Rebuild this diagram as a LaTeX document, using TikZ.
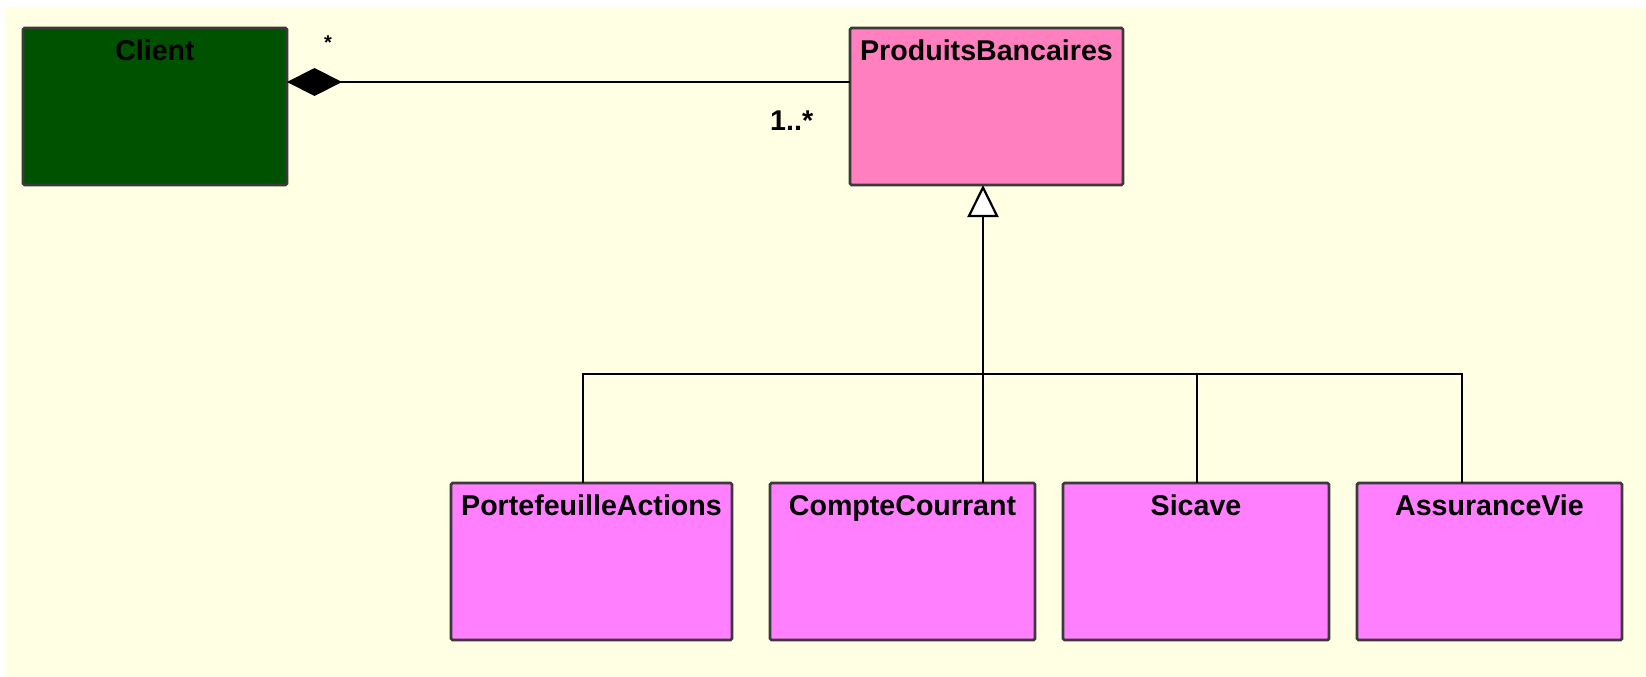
\documentclass[tikz,border=0pt]{standalone}
\usepackage{fontspec}
\setmainfont{Liberation Sans}
\usetikzlibrary{arrows.meta}
\definecolor{bgc}{HTML}{FFFFE4}
\definecolor{clientg}{HTML}{005200}
\definecolor{pbpink}{HTML}{FF7FBF}
\definecolor{subpink}{HTML}{FF7FFF}
\definecolor{bord}{HTML}{3A3A3A}
\tikzset{
  cls/.style={draw=bord, line width=2.8pt, rounded corners=1.5pt, anchor=north west, inner sep=0pt, outer sep=0pt},
  bigbox/.style={minimum width=264pt, minimum height=157pt},
  ttl/.style={anchor=base, font=\fontsize{28.6pt}{34pt}\selectfont\bfseries, inner sep=0pt},
  mult/.style={anchor=base west, font=\fontsize{28.6pt}{34pt}\selectfont, inner sep=0pt},
  conn/.style={draw=black, line width=2.2pt},
}
\begin{document}
\begin{tikzpicture}[x=1pt,y=-1pt]
\useasboundingbox (0,0) rectangle (1646,677);
\fill[white] (0,0) rectangle (1646,677);
\fill[bgc] (5,7) rectangle (1646,677);

% class boxes
\node[cls, fill=clientg, bigbox] (client) at (23,28) {};
\node[cls, fill=pbpink, minimum width=273pt, minimum height=157pt] (pb) at (850,28) {};
\node[cls, fill=subpink, minimum width=281pt, minimum height=157pt] (pf) at (451,483) {};
\node[cls, fill=subpink, minimum width=265pt, minimum height=157pt] (cc) at (770,483) {};
\node[cls, fill=subpink, minimum width=266pt, minimum height=157pt] (sic) at (1063,483) {};
\node[cls, fill=subpink, minimum width=265pt, minimum height=157pt] (av) at (1357,483) {};

% titles
\node[ttl] (clientT) at ([yshift=-32pt]client.north) {Client};
\node[ttl] (pbT) at ([yshift=-32pt]pb.north) {ProduitsBancaires};
\node[ttl] (pfT) at ([yshift=-32pt]pf.north) {PortefeuilleActions};
\node[ttl] (ccT) at ([yshift=-32pt]cc.north) {CompteCourrant};
\node[ttl] (sicT) at ([yshift=-32pt]sic.north) {Sicave};
\node[ttl] (avT) at ([yshift=-32pt]av.north) {AssuranceVie};

% composition
\coordinate (compY) at (0,82);
\draw[conn, {Diamond[length=55pt,width=28pt]}-] (client.east |- compY) -- (pb.west |- compY);
\node[mult, font=\fontsize{20pt}{24pt}\selectfont\bfseries] (m1) at (324,50) {*};
\node[mult, font=\fontsize{28.6pt}{34pt}\selectfont\bfseries] (m2) at (770,130) {1..*};

% generalization tree
\coordinate (tpf) at (583,374);
\coordinate (tcc) at (983,374);
\coordinate (tsic) at (1197,374);
\coordinate (tav) at (1462,374);
\draw[conn] (pf.north -| tpf) -- (tpf) -- (tav) -- (av.north -| tav);
\draw[conn] (cc.north -| tcc) -- (tcc);
\draw[conn] (sic.north -| tsic) -- (tsic);
\draw[conn, -{Triangle[length=32pt,width=31pt,fill=white]}] (tcc) -- (pb.south -| tcc);
\end{tikzpicture}
\end{document}
